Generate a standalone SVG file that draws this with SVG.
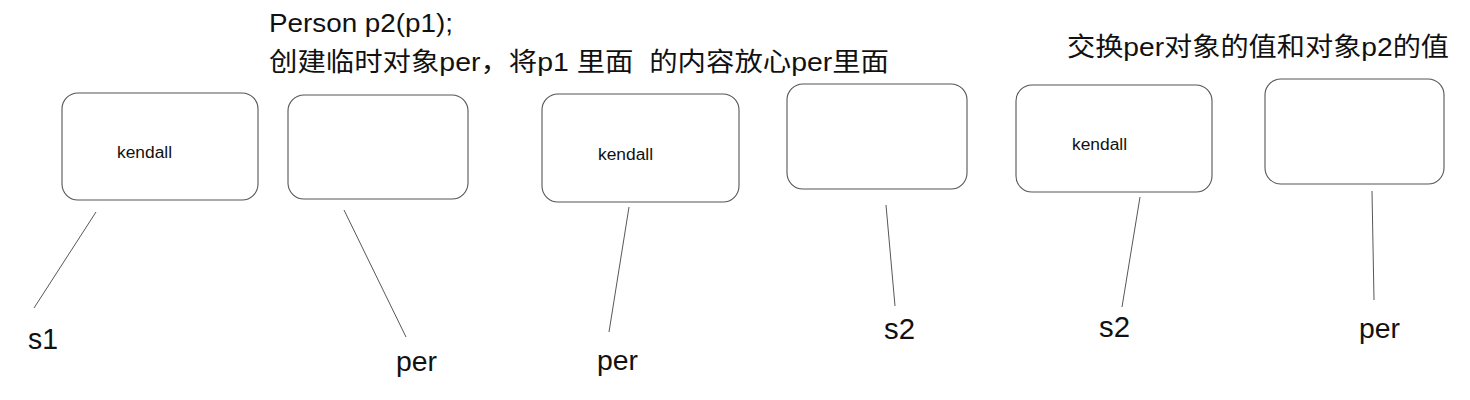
<svg xmlns="http://www.w3.org/2000/svg" width="1470" height="400" viewBox="0 0 1470 400">
<style>
.box{fill:#fff;stroke:#555;stroke-width:1.1}
.val{font-family:"Liberation Sans",Arial,sans-serif;font-size:16px;fill:#111}
.lbl{font-family:"Liberation Sans",Arial,sans-serif;font-size:27px;fill:#111}
.lbs{font-family:"Liberation Sans",Arial,sans-serif;font-size:29px;fill:#111}
.ttl{font-family:"Liberation Sans","Noto Sans CJK SC",sans-serif;font-size:26px;fill:#111;white-space:pre}
.con{stroke:#444;stroke-width:0.9;fill:none}
</style>
<rect width="1470" height="400" fill="#fff"/>
<g id="titles">
<text class="ttl" x="269" y="32" textLength="184" lengthAdjust="spacingAndGlyphs">Person p2(p1);</text>
<text class="ttl" x="269" y="71" textLength="620" lengthAdjust="spacingAndGlyphs" xml:space="preserve">创建临时对象per，将p1 里面  的内容放心per里面</text>
<text class="ttl" x="1067" y="56" textLength="382" lengthAdjust="spacingAndGlyphs">交换per对象的值和对象p2的值</text>
</g>
<g id="box1"><rect class="box" x="62" y="93" width="196" height="107" rx="16"/><text class="val" x="117" y="158" textLength="55" lengthAdjust="spacingAndGlyphs">kendall</text></g>
<g id="box2"><rect class="box" x="288" y="95" width="180" height="104" rx="16"/></g>
<g id="box3"><rect class="box" x="542" y="94" width="197" height="108" rx="16"/><text class="val" x="598" y="160" textLength="55" lengthAdjust="spacingAndGlyphs">kendall</text></g>
<g id="box4"><rect class="box" x="787" y="84" width="180" height="105" rx="16"/></g>
<g id="box5"><rect class="box" x="1016" y="85" width="196" height="107" rx="16"/><text class="val" x="1072" y="150" textLength="55" lengthAdjust="spacingAndGlyphs">kendall</text></g>
<g id="box6"><rect class="box" x="1265" y="79" width="179" height="105" rx="16"/></g>
<g id="connectors">
<line class="con" x1="96" y1="212" x2="34" y2="308"/>
<line class="con" x1="344" y1="210" x2="406" y2="337"/>
<line class="con" x1="629" y1="207" x2="609" y2="332"/>
<line class="con" x1="886" y1="205" x2="895" y2="306"/>
<line class="con" x1="1140" y1="197" x2="1122" y2="307"/>
<line class="con" x1="1372" y1="191" x2="1374" y2="300"/>
</g>
<g id="label-s1"><text class="lbs" x="28" y="349" textLength="30" lengthAdjust="spacingAndGlyphs">s1</text></g>
<g id="label-per1"><text class="lbl" x="396" y="371" textLength="41" lengthAdjust="spacingAndGlyphs">per</text></g>
<g id="label-per2"><text class="lbl" x="597" y="370" textLength="41" lengthAdjust="spacingAndGlyphs">per</text></g>
<g id="label-s2a"><text class="lbs" x="884" y="339" textLength="31" lengthAdjust="spacingAndGlyphs">s2</text></g>
<g id="label-s2b"><text class="lbs" x="1099" y="337" textLength="31" lengthAdjust="spacingAndGlyphs">s2</text></g>
<g id="label-per3"><text class="lbl" x="1359" y="338" textLength="41" lengthAdjust="spacingAndGlyphs">per</text></g>
</svg>
